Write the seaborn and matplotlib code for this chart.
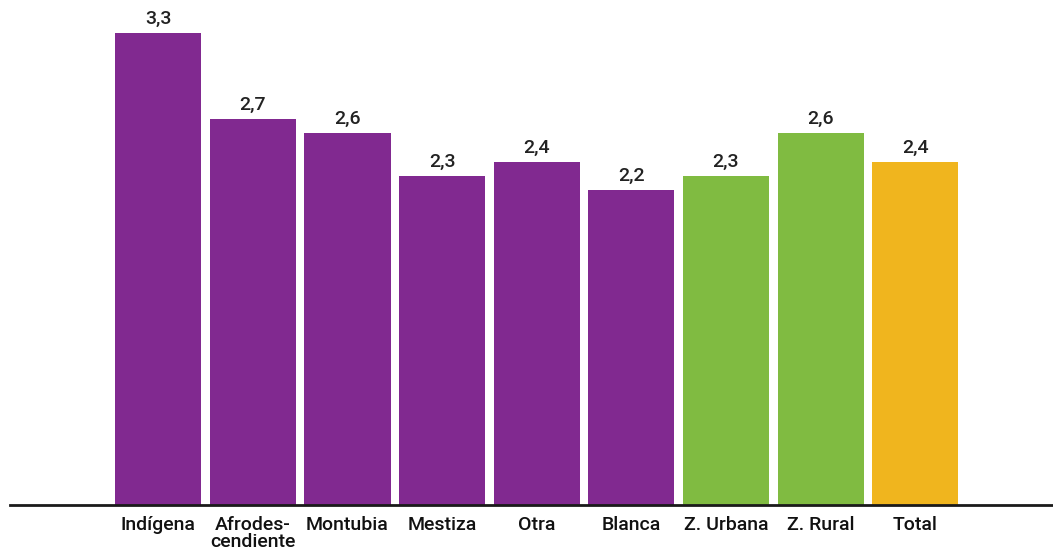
import pandas as pd
import matplotlib.pyplot as plt
import seaborn as sns

# Data
categories = ['Indígena', 'Afrodes-\ncendiente', 'Montubia', 'Mestiza', 'Otra',
              'Blanca', 'Z. Urbana', 'Z. Rural', 'Total']
values = [3.3, 2.7, 2.6, 2.3, 2.4, 2.2, 2.3, 2.6, 2.4]
groups = ['etnia'] * 6 + ['zona'] * 2 + ['total']

palette = {'etnia': '#812990', 'zona': '#80BB41', 'total': '#F0B51E'}

data = pd.DataFrame({'categoria': categories, 'valor': values, 'grupo': groups})

sns.set_style('white')
plt.rcParams['font.family'] = ['Roboto', 'DejaVu Sans']

fig = plt.figure(figsize=(10.53, 5.54), dpi=100)
ax = fig.add_axes([0.0095, 0.089, 0.99, 0.911])

sns.barplot(data=data, x='categoria', y='valor', hue='grupo', palette=palette,
            dodge=False, width=0.91, legend=False, saturation=1, linewidth=0, ax=ax)

# Value labels with comma decimal
for i, v in enumerate(values):
    ax.text(i, v + 0.035, f'{v:.1f}'.replace('.', ','), ha='center', va='bottom',
            fontsize=14, fontweight='medium', color='#222222')

ax.set_xlim(-1.566, 9.45)
ax.set_ylim(0, 3.53)
ax.set_xlabel('')
ax.set_ylabel('')
ax.set_yticks([])
ax.tick_params(axis='x', length=0, labelsize=14, pad=8)
for lbl in ax.get_xticklabels():
    lbl.set_linespacing(0.95)
    lbl.set_fontweight('medium')
    lbl.set_color('#111111')

for s in ['top', 'right', 'left']:
    ax.spines[s].set_visible(False)
ax.spines['bottom'].set_linewidth(2)
ax.spines['bottom'].set_color('#1a1a1a')

plt.savefig('out.png', dpi=100)
